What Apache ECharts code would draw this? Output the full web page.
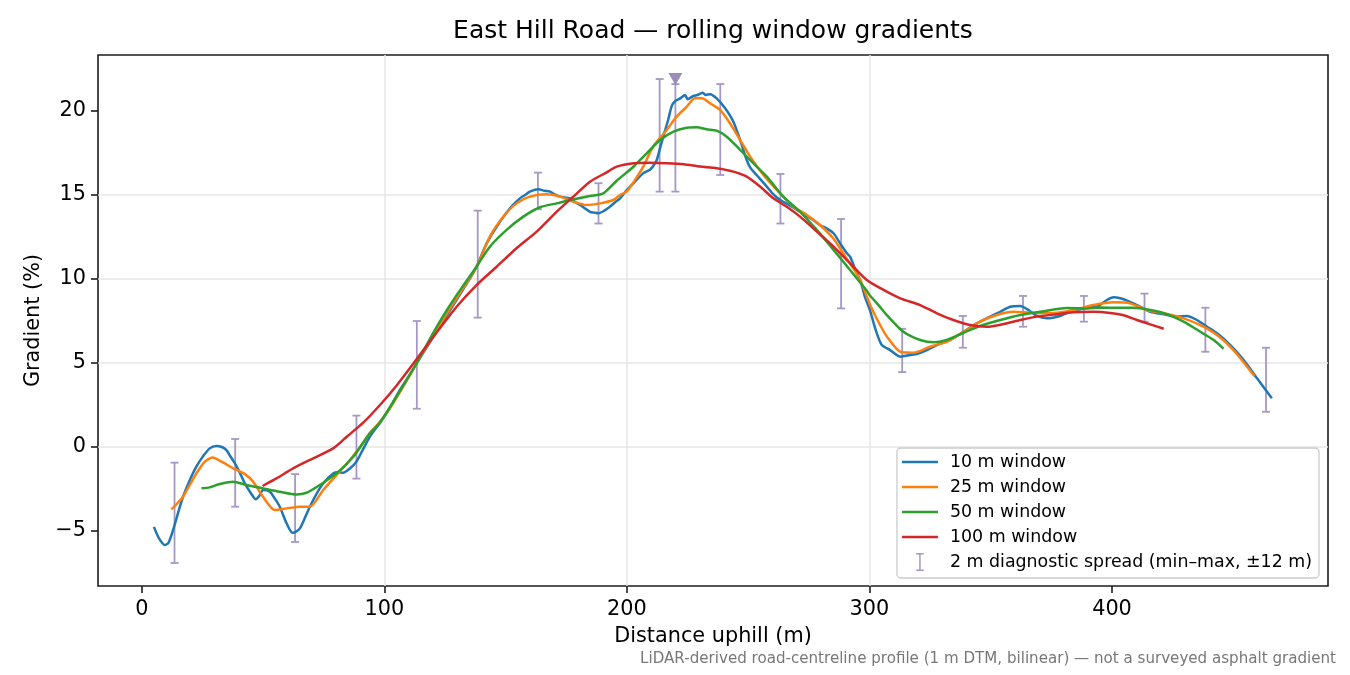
<!DOCTYPE html>
<html>
<head>
<meta charset="utf-8">
<script src="https://cdn.jsdelivr.net/npm/echarts@6/dist/echarts.min.js"></script>
<style>
html,body{margin:0;padding:0;background:#fff;}
#chart{width:1350px;height:675px;}
</style>
</head>
<body>
<div id="chart"></div>
<script>
// ---- data (distance uphill in m, gradient in %) ----
const win10X = [5,7,9.5,11,12.9,15,17,20,22.5,25,28,30.8,33,34.9,36.5,38.4,40.5,42.5,45,47,48.5,50,52.8,55,56.9,59.7,62.1,63.5,65.2,67,69.3,72,74.8,78.9,81,83,86,88.5,91,94,98.2,102.3,106,110,113.3,118,123,128,133,136,138,142.2,146.3,150.4,153,155.9,158,160,163.5,166,168.3,170,172.4,176.5,178.5,180.7,184.8,186.5,188.2,190.5,193,195,197.2,200,202.7,206.8,209.5,211,212.3,213.5,215,217,218.5,220,222,224,225,227.4,229,231.3,232.5,234.3,237,240.5,243.9,246.7,249.4,251,253.5,257.7,260,263.2,267,271.4,276.9,279.7,282.5,285.2,287.9,290.7,292,294.8,296.2,298,300.3,302.5,305.1,308.5,312.7,316.8,319.5,323.7,327.8,333.3,338.8,344.3,349.8,353.9,358,362.2,365.6,369,373.2,378.6,382.8,388.3,393.8,397.9,400.6,403.4,406.5,410.3,413,415.8,421.3,426.8,430.9,435,439.2,443.3,448.8,454.3,459.8,465.9];
const win10Y = [-4.75,-5.4,-5.83,-5.7,-4.94,-3.9,-2.96,-1.9,-1.17,-0.6,-0.08,0.06,0.0,-0.18,-0.55,-0.97,-1.55,-2.16,-2.75,-3.11,-2.9,-2.56,-2.66,-3.1,-3.55,-4.54,-5.1,-5.05,-4.84,-4.3,-3.55,-2.8,-2.16,-1.57,-1.5,-1.53,-1.25,-0.87,-0.2,0.61,1.45,2.35,3.3,4.2,4.98,6.05,7.2,8.35,9.5,10.2,10.73,12.12,13.11,13.95,14.4,14.8,15.0,15.2,15.34,15.25,15.2,15.05,14.9,14.8,14.6,14.4,14.0,13.95,13.91,14.05,14.3,14.55,14.8,15.3,15.7,16.3,16.5,16.75,17.08,17.7,18.47,19.46,20.3,20.6,20.75,20.95,20.7,20.89,20.95,21.09,20.95,21.0,20.75,20.16,19.36,18.27,17.08,16.6,16.19,15.5,15.1,14.7,14.4,14.0,13.5,13.2,13.0,12.72,12.12,11.53,11.33,10.34,9.94,9.0,8.1,7.0,6.07,5.77,5.38,5.48,5.54,5.77,6.07,6.37,6.86,7.36,7.76,8.05,8.35,8.39,8.15,7.8,7.66,7.8,8.05,8.25,8.35,8.75,8.91,8.85,8.7,8.45,8.25,8.05,7.9,7.76,7.8,7.56,7.16,6.77,6.07,5.18,4.09,2.9];

const win25X = [12.2,15,17,20,22.5,26,29.1,32.9,37.7,42.5,45.9,50,54.9,59.7,65.2,69.3,74.8,80.3,85.8,90,94,98.2,102.3,107,113.3,120,126,132,138,143.5,149,154.5,160,166.9,172.4,177.9,183.4,188.9,194.4,197.2,199.9,202.7,206.8,210.9,216.4,220.5,224.7,228.1,230.9,234.3,238.4,242.5,246.7,250.8,256.3,261.8,268.7,274.2,279.7,285.2,290.7,296.2,300.3,303.5,307.2,312.7,318.2,325,331.9,338.8,345.6,352.5,359.4,366.3,374.5,384.1,392.4,400.6,407.5,414.4,421.3,429.5,436.4,443.3,450.1,458.7];
const win25Y = [-3.71,-3.3,-2.96,-2.2,-1.57,-0.87,-0.63,-0.87,-1.27,-1.61,-2.06,-2.96,-3.75,-3.65,-3.55,-3.55,-2.56,-1.67,-0.77,0.0,0.82,1.5,2.3,3.4,4.98,6.6,8.0,9.35,10.7,12.52,13.7,14.5,14.9,15.04,14.9,14.6,14.4,14.5,14.7,15.0,15.2,15.75,16.7,17.9,18.87,19.66,20.26,20.75,20.75,20.45,20.06,19.27,18.27,17.28,16.19,15.3,14.3,13.81,13.2,12.4,11.2,9.94,8.45,7.5,6.57,5.67,5.61,5.97,6.27,6.86,7.46,7.86,8.05,7.99,7.96,8.15,8.45,8.61,8.55,8.15,7.96,7.66,7.26,6.67,5.77,4.23];

const win50X = [24.6,28,32.2,37.7,43.2,50,56.9,63.8,67.9,73.4,80.3,87.2,94,98.2,105,113.3,120,126,132,138,143.5,150.4,157.3,164.2,171,177.9,184.8,190.3,195.8,202.7,208.2,213.7,219.2,224.7,228.8,232.9,237,241.2,246.7,252.1,257.7,264.5,271.4,278.3,285.2,292,298.9,300.3,304,307.5,314,320.9,326.4,331.9,338.8,345.6,353.9,362.2,370.4,381.4,389.7,395.2,403.4,408.9,415.8,422.7,429.5,436.4,441.9,446];
const win50Y = [-2.46,-2.4,-2.2,-2.06,-2.26,-2.46,-2.66,-2.82,-2.72,-2.26,-1.57,-0.58,0.82,1.45,3.0,4.98,6.75,8.2,9.5,10.73,11.92,12.92,13.71,14.27,14.5,14.74,14.94,15.1,15.85,16.68,17.48,18.27,18.77,19.0,19.03,18.91,18.83,18.47,17.68,16.89,16.09,14.9,14.0,12.92,11.73,10.54,9.3,9.0,8.4,7.8,6.86,6.37,6.23,6.37,6.8,7.2,7.56,7.86,8.05,8.27,8.25,8.3,8.29,8.29,8.15,7.9,7.46,6.86,6.37,5.85];

const win100X = [49.8,55.5,62.4,70.7,78.9,84.4,91.3,98.2,105,111.9,118.8,121.5,129.8,138,146.3,154.5,162.8,171,177.9,184.8,191.7,195.8,202.7,209.5,216.4,223.3,230.2,237,243.9,249.4,254.9,260.4,265.9,271.4,278.3,285.2,292,298.9,305.8,312.7,320.9,327.8,334.6,341.5,348.4,355.3,362.2,369,375.9,384.1,392.4,399.3,404.8,410.3,415.8,421.3];
const win100Y = [-2.32,-1.87,-1.27,-0.67,-0.08,0.6,1.45,2.5,3.65,4.95,6.3,6.8,8.35,9.64,10.73,11.83,12.82,14.0,14.9,15.79,16.35,16.69,16.89,16.92,16.89,16.83,16.69,16.59,16.39,16.09,15.5,14.8,14.3,13.71,12.82,11.92,10.93,9.94,9.35,8.85,8.45,7.96,7.56,7.26,7.16,7.32,7.56,7.76,7.88,8.02,8.05,7.98,7.84,7.56,7.3,7.04];

// 2 m diagnostic spread (min–max within ±12 m)
const spreadX    = [13.5,38.5,63.2,88.5,113.4,138.5,163.3,188.3,213.5,220,238.5,263.3,288.3,313.5,338.5,363.3,388.4,413.4,438.5,463.5];
const spreadLow  = [-6.9,-3.55,-5.65,-1.88,2.28,7.7,14.15,13.3,15.2,15.2,16.19,13.3,8.25,4.46,5.91,7.16,7.46,7.46,5.67,2.1];
const spreadHigh = [-0.93,0.48,-1.61,1.87,7.5,14.07,16.33,15.7,21.9,21.6,21.6,16.25,13.57,7.04,7.8,8.99,8.99,9.13,8.29,5.91];

const peakMarker = [[220, 21.9]];

const xTicks = [0,100,200,300,400];
const yTicks = [-5,0,5,10,15,20];

const seriesNames = ['10 m window','25 m window','50 m window','100 m window'];
const spreadName = '2 m diagnostic spread (min–max, ±12 m)';
const titleText = 'East Hill Road — rolling window gradients';
const footnote = 'LiDAR-derived road-centreline profile (1 m DTM, bilinear) — not a surveyed asphalt gradient';

// ---- chart ----
const FONT = 'DejaVu Sans';
const pair = (xs, ys) => xs.map((x, i) => [x, ys[i]]);
const colors = ['#1f77b4','#ff7f0e','#2ca02c','#d62728'];
const spreadColor = '#a598c6';
const frameColor = '#1c1c1c';
const minus = v => (v < 0 ? '\u2212' + Math.abs(v) : String(v));
const BOX = 'M0,0 L0.001,0 L0,0.001 Z M36,18 L35.999,18 L36,17.999 Z ';
const lineIcon = 'path://' + BOX + 'M0,7.8 H36 V10.2 H0 Z';
const barIcon = 'path://' + BOX + 'M14.2,0 H21.8 V1.5 H18.75 V16.5 H21.8 V18 H14.2 V16.5 H17.25 V1.5 H14.2 Z';

const lineSeries = [[win10X,win10Y],[win25X,win25Y],[win50X,win50Y],[win100X,win100Y]].map((d, i) => ({
  name: seriesNames[i],
  type: 'line',
  data: pair(d[0], d[1]),
  symbol: 'none',
  smooth: 0.25,
  z: 3 + i,
  lineStyle: { color: colors[i], width: 2.5 },
  itemStyle: { color: colors[i] }
}));

const chart = echarts.init(document.getElementById('chart'), null, { renderer: 'canvas' });
chart.setOption({
  animation: false,
  backgroundColor: '#fff',
  title: {
    text: titleText,
    left: 713,
    top: 19,
    textAlign: 'center',
    padding: 0,
    textStyle: { fontFamily: FONT, fontSize: 25, fontWeight: 'normal', color: '#000' }
  },
  grid: {
    left: 98, right: 22, top: 55, bottom: 89,
    show: true, borderColor: frameColor, borderWidth: 1.6, backgroundColor: 'transparent'
  },
  legend: {
    orient: 'vertical',
    right: 31,
    bottom: 97,
    padding: [5, 7, 7, 5],
    itemGap: 7,
    itemWidth: 36,
    itemHeight: 18,
    backgroundColor: 'rgba(255,255,255,0.85)',
    borderColor: '#cccccc',
    borderWidth: 1.3,
    borderRadius: 4,
    textStyle: { fontFamily: FONT, fontSize: 17.4, color: '#000', padding: [0, 0, 0, 7] },
    data: seriesNames.map((n, i) => ({ name: n, icon: lineIcon, itemStyle: { color: colors[i] } })).concat([{
      name: spreadName,
      icon: barIcon,
      itemStyle: { color: spreadColor }
    }])
  },
  xAxis: {
    type: 'value',
    min: -18.05,
    max: 489.05,
    splitNumber: 5,
    name: 'Distance uphill (m)',
    nameLocation: 'middle',
    nameGap: 40,
    nameTextStyle: { fontFamily: FONT, fontSize: 20.8, color: '#000' },
    axisLine: { show: false, onZero: false },
    axisTick: { show: true, length: 7, inside: false, customValues: xTicks, lineStyle: { color: frameColor, width: 1.6 } },
    axisLabel: { customValues: xTicks, margin: 13, fontFamily: FONT, fontSize: 20.8, color: '#000', formatter: minus },
    splitLine: { show: true, showMinLine: false, showMaxLine: false, lineStyle: { color: '#e6e6e6', width: 1.5 } }
  },
  yAxis: {
    type: 'value',
    min: -8.27,
    max: 23.33,
    splitNumber: 5,
    name: 'Gradient (%)',
    nameLocation: 'middle',
    nameGap: 54,
    nameRotate: 90,
    nameTextStyle: { fontFamily: FONT, fontSize: 20.8, color: '#000' },
    axisLine: { show: false, onZero: false },
    axisTick: { show: true, length: 7, customValues: yTicks, lineStyle: { color: frameColor, width: 1.6 } },
    axisLabel: { customValues: yTicks, margin: 12, fontFamily: FONT, fontSize: 20.8, color: '#000', formatter: minus },
    splitLine: { show: true, showMinLine: false, showMaxLine: false, lineStyle: { color: '#e6e6e6', width: 1.5 } }
  },
  series: [{
    name: spreadName,
    type: 'custom',
    z: 2,
    itemStyle: { color: spreadColor },
    encode: { x: 0, y: [1, 2] },
    data: spreadX.map((x, i) => [x, spreadLow[i], spreadHigh[i]]),
    renderItem: function (params, api) {
      const x = api.value(0);
      const lo = api.coord([x, api.value(1)]);
      const hi = api.coord([x, api.value(2)]);
      const cw = 4;
      const st = { stroke: spreadColor, lineWidth: 1.8 };
      return {
        type: 'group',
        children: [
          { type: 'line', shape: { x1: lo[0], y1: lo[1], x2: hi[0], y2: hi[1] }, style: st },
          { type: 'line', shape: { x1: lo[0] - cw, y1: lo[1], x2: lo[0] + cw, y2: lo[1] }, style: st },
          { type: 'line', shape: { x1: hi[0] - cw, y1: hi[1], x2: hi[0] + cw, y2: hi[1] }, style: st }
        ]
      };
    }
  }].concat(lineSeries).concat([{
    name: 'peak',
    type: 'scatter',
    data: peakMarker,
    symbol: 'triangle',
    symbolRotate: 180,
    symbolSize: [14, 12],
    z: 10,
    itemStyle: { color: '#8170a8' }
  }]),
  graphic: [{
    type: 'text',
    right: 14,
    top: 652,
    style: {
      text: footnote,
      fontFamily: FONT,
      fontSize: 15.1,
      fill: '#777777'
    }
  }]
});
</script>
</body>
</html>
